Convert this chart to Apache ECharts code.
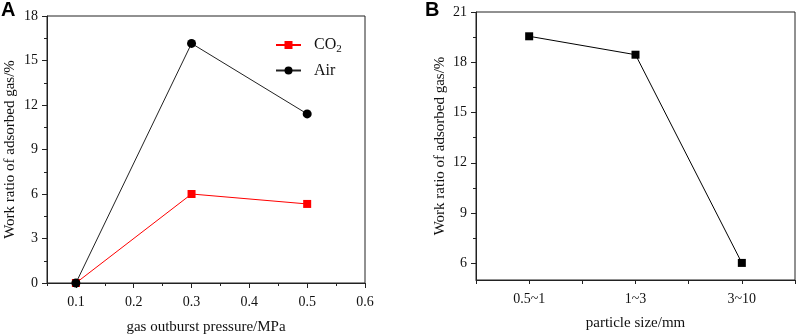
<!DOCTYPE html>
<html>
<head>
<meta charset="utf-8">
<script src="https://cdn.jsdelivr.net/npm/echarts@6/dist/echarts.min.js"></script>
<style>
html,body{margin:0;padding:0;background:#fff;}
#c{width:796px;height:334px;}
</style>
</head>
<body>
<div id="c"></div>
<script>
// Panel A data
const pressure = [0.1, 0.3, 0.5];
const co2Ratio = [0, 6.0, 5.33];
const airRatio = [0, 16.15, 11.4];
const xTicksA = [0.1, 0.2, 0.3, 0.4, 0.5, 0.6];
const xMinorA = [0.05, 0.15, 0.25, 0.35, 0.45, 0.55];
// Panel B data
const sizeCats = ['0.5~1', '1~3', '3~10'];
const sizeRatio = [19.55, 18.45, 6.02];
const yTicksB = [6, 9, 12, 15, 18, 21];
const yMinorB = [7.5, 10.5, 13.5, 16.5, 19.5];

const FONT = 'Liberation Serif';
const AX = '#222';

const chart = echarts.init(document.getElementById('c'), null, {renderer: 'canvas'});

const axisLineStyle = {show: true, lineStyle: {color: AX, width: 1}};
const lbl = {color: '#111', fontFamily: FONT, fontSize: 14};
const nameStyle = {fontFamily: FONT, fontSize: 15, color: '#111'};

chart.setOption({
  animation: false,
  backgroundColor: '#fff',
  textStyle: {fontFamily: FONT},
  graphic: [
    {type: 'text', left: 1, top: 0, style: {text: 'A', font: 'bold 20px Liberation Sans', fill: '#000'}},
    {type: 'text', left: 425, top: 0, style: {text: 'B', font: 'bold 20px Liberation Sans', fill: '#000'}}
  ],
  grid: [
    {left: 47, right: 431, top: 16, bottom: 51, outerBoundsMode: 'none', containLabel: false, show: true, borderColor: AX, borderWidth: 1, backgroundColor: 'transparent'},
    {left: 476, right: 1, top: 12, bottom: 54, outerBoundsMode: 'none', containLabel: false, show: true, borderColor: AX, borderWidth: 1, backgroundColor: 'transparent'}
  ],
  legend: {
    left: 275, top: 37, orient: 'vertical', padding: 0,
    itemWidth: 25, itemHeight: 10, itemGap: 8,
    data: ['CO2', 'Air'],
    formatter: function (n) { return n === 'CO2' ? '{a|CO}{s|2}' : '{a|Air}'; },
    textStyle: {
      fontFamily: FONT, fontSize: 16, color: '#111',
      rich: {
        a: {fontFamily: FONT, fontSize: 16, color: '#111', padding: [0, 0, 0, 8]},
        s: {fontFamily: FONT, fontSize: 11, color: '#111', padding: [8, 0, 0, 0]}
      }
    }
  },
  xAxis: [
    {
      gridIndex: 0, type: 'value', min: 0.05, max: 0.6,
      axisLine: axisLineStyle,
      axisTick: {show: true, inside: false, length: 5, lineStyle: {color: AX}, customValues: xTicksA},
      axisLabel: Object.assign({margin: 12, customValues: xTicksA, formatter: v => v.toFixed(1)}, lbl),
      splitLine: {show: false},
      name: 'gas outburst pressure/MPa', nameLocation: 'middle', nameGap: 37,
      nameTextStyle: nameStyle
    },
    {
      gridIndex: 0, type: 'value', min: 0.05, max: 0.6, position: 'bottom',
      axisLine: {show: false},
      axisTick: {show: true, inside: false, length: 3, lineStyle: {color: AX}, customValues: xMinorA},
      axisLabel: {show: false}, splitLine: {show: false}
    },
    {
      gridIndex: 1, type: 'value', min: 0.5, max: 3.5, interval: 0.5,
      axisLine: axisLineStyle,
      axisTick: {show: true, inside: false, length: 4, lineStyle: {color: AX}},
      axisLabel: Object.assign({margin: 12, formatter: function (v) {
        const i = Math.round(v);
        return Math.abs(v - i) < 1e-6 && i >= 1 && i <= sizeCats.length ? sizeCats[i - 1] : '';
      }}, lbl),
      splitLine: {show: false},
      name: 'particle size/mm', nameLocation: 'middle', nameGap: 36,
      nameTextStyle: nameStyle
    }
  ],
  yAxis: [
    {
      gridIndex: 0, type: 'value', min: 0, max: 18, interval: 3,
      axisLine: axisLineStyle,
      axisTick: {show: true, inside: false, length: 5, lineStyle: {color: AX}},
      minorTick: {show: true, splitNumber: 2, length: 3, lineStyle: {color: AX}},
      axisLabel: Object.assign({margin: 9}, lbl),
      splitLine: {show: false},
      name: 'Work ratio of adsorbed gas/%', nameLocation: 'middle', nameGap: 29,
      nameTextStyle: nameStyle
    },
    {
      gridIndex: 1, type: 'value', min: 5, max: 21,
      axisLine: axisLineStyle,
      axisTick: {show: true, inside: false, length: 5, lineStyle: {color: AX}, customValues: yTicksB},
      axisLabel: Object.assign({margin: 9, customValues: yTicksB}, lbl),
      splitLine: {show: false},
      name: 'Work ratio of adsorbed gas/%', nameLocation: 'middle', nameGap: 28,
      nameTextStyle: nameStyle
    },
    {
      gridIndex: 1, type: 'value', min: 5, max: 21, position: 'left',
      axisLine: {show: false},
      axisTick: {show: true, inside: false, length: 3, lineStyle: {color: AX}, customValues: yMinorB},
      axisLabel: {show: false}, splitLine: {show: false}
    }
  ],
  series: [
    {
      name: 'CO2', type: 'line', xAxisIndex: 0, yAxisIndex: 0,
      data: pressure.map((p, i) => [p, co2Ratio[i]]),
      symbol: 'rect', symbolSize: 8, clip: false,
      lineStyle: {color: '#ff0000', width: 1},
      itemStyle: {color: '#ff0000'}
    },
    {
      name: 'Air', type: 'line', xAxisIndex: 0, yAxisIndex: 0,
      data: pressure.map((p, i) => [p, airRatio[i]]),
      symbol: 'circle', symbolSize: 9, clip: false,
      lineStyle: {color: '#222', width: 1},
      itemStyle: {color: '#000'}
    },
    {
      name: 'size', type: 'line', xAxisIndex: 2, yAxisIndex: 1,
      data: sizeRatio.map((v, i) => [i + 1, v]),
      symbol: 'rect', symbolSize: 8,
      lineStyle: {color: '#000', width: 1},
      itemStyle: {color: '#000'}
    }
  ]
});
</script>
</body>
</html>
